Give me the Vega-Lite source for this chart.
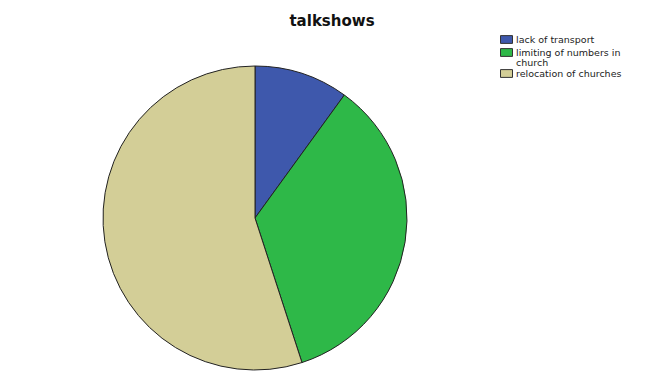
{
  "$schema": "https://vega.github.io/schema/vega-lite/v6.json",
  "autosize": "none",
  "width": 510,
  "height": 304,
  "padding": {"left": 0, "top": 66, "right": 147, "bottom": 1},
  "background": "white",
  "title": {
    "text": "talkshows",
    "font": "DejaVu Sans",
    "fontSize": 15,
    "fontWeight": "bold",
    "color": "#111111",
    "anchor": "middle",
    "dx": 77,
    "offset": 4
  },
  "data": {
    "values": [
      {"category": "lack of transport", "pct": 10, "order": 1},
      {"category": "limiting of numbers in church", "pct": 35, "order": 2},
      {"category": "relocation of churches", "pct": 55, "order": 3}
    ]
  },
  "mark": {"type": "arc", "outerRadius": 152, "stroke": "#222222", "strokeWidth": 1},
  "encoding": {
    "theta": {"field": "pct", "type": "quantitative", "stack": true},
    "order": {"field": "order", "type": "quantitative"},
    "color": {
      "field": "category",
      "type": "nominal",
      "sort": ["lack of transport", "limiting of numbers in church", "relocation of churches"],
      "scale": {
        "domain": ["lack of transport", "limiting of numbers in church", "relocation of churches"],
        "range": ["#3E58AC", "#2EB848", "#D3CE97"]
      },
      "legend": {
        "title": null,
        "orient": "none",
        "legendX": 500,
        "legendY": -33,
        "symbolType": "M-1,-0.65H1V0.65H-1Z",
        "symbolSize": 144,
        "symbolStrokeColor": "#333333",
        "symbolStrokeWidth": 1,
        "symbolOpacity": 1,
        "labelFont": "DejaVu Sans",
        "labelFontSize": 9.5,
        "labelColor": "#222222",
        "labelOffset": 3,
        "rowPadding": -2,
        "labelLimit": 200,
        "labelExpr": "datum.label == 'limiting of numbers in church' ? ['limiting of numbers in', 'church'] : datum.label",
        "encode": {"labels": {"update": {"lineHeight": {"value": 10}}}}
      }
    }
  },
  "config": {"view": {"stroke": null}}
}
